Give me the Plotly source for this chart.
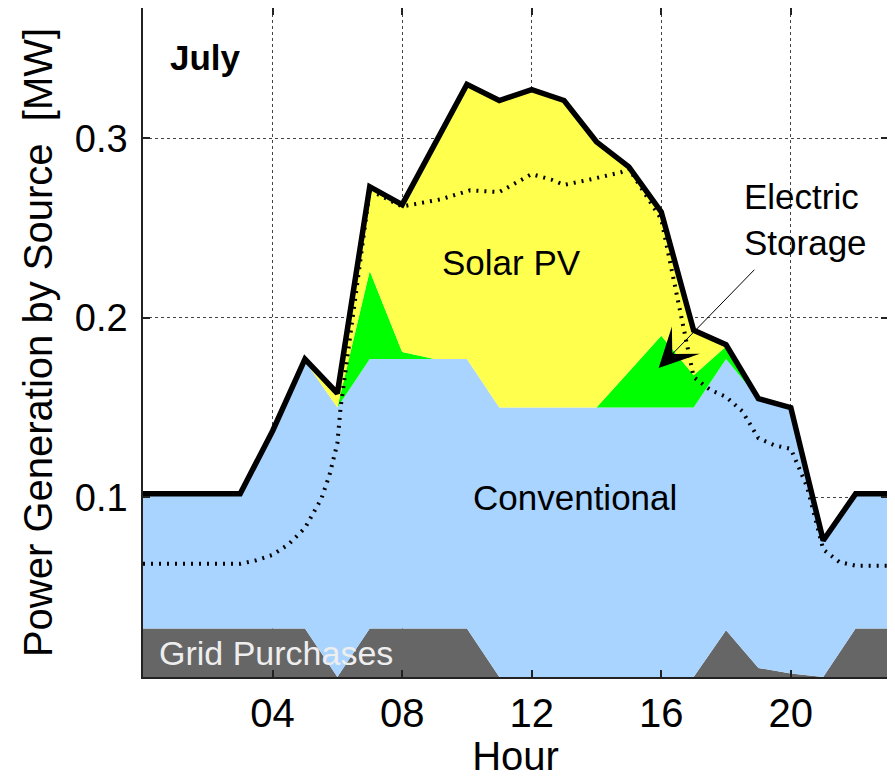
import plotly.graph_objects as go

# hourly dispatch, July day [MW]
hours = list(range(24))
grid_purchases = [0.027, 0.027, 0.027, 0.027, 0.027, 0.027, 0.000, 0.027, 0.027, 0.027, 0.027, 0.000,
                  0.000, 0.000, 0.000, 0.000, 0.000, 0.000, 0.026, 0.005, 0.002, 0.000, 0.027, 0.027]
conventional = [0.075, 0.075, 0.075, 0.075, 0.110, 0.149, 0.150, 0.150, 0.150, 0.150, 0.150, 0.150,
                0.150, 0.150, 0.150, 0.150, 0.150, 0.150, 0.151, 0.150, 0.148, 0.076, 0.075, 0.075]
electric_storage = [0.000, 0.000, 0.000, 0.000, 0.000, 0.000, 0.000, 0.049, 0.004, 0.000, 0.000, 0.000,
                    0.000, 0.000, 0.000, 0.020, 0.040, 0.018, 0.007, 0.000, 0.000, 0.000, 0.000, 0.000]
solar_pv = [0.000, 0.000, 0.000, 0.000, 0.000, 0.001, 0.008, 0.047, 0.082, 0.120, 0.153, 0.171,
            0.177, 0.171, 0.148, 0.114, 0.069, 0.025, 0.001, 0.000, 0.000, 0.000, 0.000, 0.000]
total_generation = [0.102, 0.102, 0.102, 0.102, 0.137, 0.177, 0.158, 0.273, 0.263, 0.297, 0.330, 0.321,
                    0.327, 0.321, 0.298, 0.284, 0.259, 0.193, 0.185, 0.155, 0.150, 0.076, 0.102, 0.102]

# demand (dotted)
demand_hours = [0, 3, 3.5, 4, 4.5, 5, 5.5, 5.75, 6, 6.1, 7, 8, 9.2, 10.1, 11, 12, 12.6, 13, 13.8, 14.75, 15,
                16, 17, 17.5, 18, 18.5, 19, 19.5, 20, 20.5, 21, 21.5, 22, 23]
demand = [0.063, 0.063, 0.065, 0.068, 0.074, 0.083, 0.099, 0.112, 0.130, 0.150, 0.271, 0.262, 0.266, 0.271,
          0.270, 0.280, 0.277, 0.274, 0.277, 0.281, 0.283, 0.255, 0.167, 0.160, 0.156, 0.148, 0.133, 0.129,
          0.127, 0.106, 0.071, 0.064, 0.062, 0.062]

xtick_vals = [4, 8, 12, 16, 20]
xtick_text = ["04", "08", "12", "16", "20"]
ytick_vals = [0.1, 0.2, 0.3]
ytick_text = ["0.1", "0.2", "0.3"]

FONT = "Liberation Sans, Arial, sans-serif"

fig = go.Figure()
layers = [
    ("Grid Purchases", grid_purchases, "#666666"),
    ("Conventional", conventional, "#A8D4FF"),
    ("Electric Storage", electric_storage, "#00FF00"),
    ("Solar PV", solar_pv, "#FFFF4D"),
]
for name, vals, col in layers:
    fig.add_trace(go.Scatter(x=hours, y=vals, name=name, stackgroup="gen", mode="lines",
                             line=dict(width=0, color=col), fillcolor=col))

fig.add_trace(go.Scatter(x=demand_hours, y=demand, mode="lines",
                         line=dict(color="black", width=4, dash="2px,6px")))
fig.add_trace(go.Scatter(x=hours, y=total_generation, mode="lines",
                         line=dict(color="black", width=5.5)))

txt = dict(family=FONT, size=35, color="black")
fig.add_annotation(x=1.92, y=0.345, text="<b>July</b>", showarrow=False, font=txt)
fig.add_annotation(x=11.38, y=0.2306, text="Solar PV", showarrow=False, font=txt)
fig.add_annotation(x=13.35, y=0.100, text="Conventional", showarrow=False, font=txt)
fig.add_annotation(x=18.5, y=0.255, text="Electric<br>Storage", showarrow=False, font=txt,
                   xanchor="left", align="left")
fig.add_annotation(x=0.42, y=0.0135, text="Grid Purchases", showarrow=False,
                   font=dict(family=FONT, size=34, color="#EEEEEE"), xanchor="left")
# arrow pointing at storage wedge
fig.add_annotation(x=15.92, y=0.172, ax=18.92, ay=0.2276, axref="x", ayref="y",
                   text="", showarrow=True, arrowhead=3, arrowsize=6.5, arrowwidth=1,
                   arrowcolor="black")

fig.update_xaxes(range=[0, 23], tickvals=xtick_vals, ticktext=xtick_text, automargin=False,
                 showline=True, mirror="ticks", linecolor="#222", linewidth=1.5,
                 ticks="inside", ticklen=7, tickwidth=1.5, tickcolor="#222",
                 showgrid=True, gridcolor="#444", griddash="dot", gridwidth=1,
                 zeroline=False, ticklabelstandoff=0,
                 tickfont=dict(family=FONT, size=40, color="black"),
                 title=dict(text="Hour", font=dict(family=FONT, size=40, color="black"), standoff=0))
fig.update_yaxes(range=[0, 0.3725], tickvals=ytick_vals, ticktext=ytick_text, automargin=False,
                 showline=True, mirror="ticks", linecolor="#222", linewidth=1.5,
                 ticks="inside", ticklen=7, tickwidth=1.5, tickcolor="#222",
                 showgrid=True, gridcolor="#444", griddash="dot", gridwidth=1,
                 zeroline=False, ticklabelstandoff=6,
                 tickfont=dict(family=FONT, size=38, color="black"),
                 title=dict(text="Power Generation by Source  [MW]",
                            font=dict(family=FONT, size=40, color="black"), standoff=10))

# page body keeps its default 8px margin, so the figure is 8px smaller
fig.update_layout(width=887, height=770, showlegend=False,
                  margin=dict(l=135, r=7, t=0, b=101),
                  plot_bgcolor="white", paper_bgcolor="white")

fig.write_html("out.html")
